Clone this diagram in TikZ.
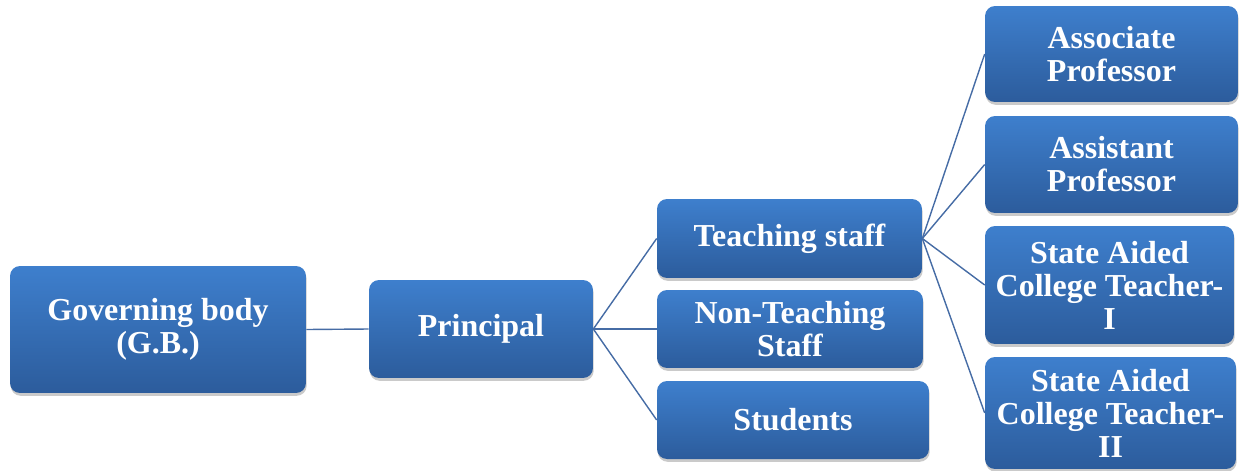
\documentclass[tikz,border=0pt]{standalone}
\usepackage{fontspec}
\setmainfont{Liberation Serif}
\usetikzlibrary{shadows}

\definecolor{boxtop}{RGB}{62,127,205}
\definecolor{boxbottom}{RGB}{44,92,156}
\definecolor{linkblue}{RGB}{70,108,165}

\tikzset{
    orgbox/.style={
        rounded corners=0.2cm,
        top color=boxtop, bottom color=boxbottom,
        draw=none, text=white, align=center,
        font=\fontsize{18.2}{18.8}\selectfont\bfseries,
        inner sep=0pt,
        drop shadow={shadow xshift=0.4pt, shadow yshift=-1.6pt, opacity=0.35, fill=black!60}
    },
    link/.style={draw=linkblue, line width=0.8pt}
}

\begin{document}
\begin{tikzpicture}[
    % one unit is one pixel of the reference, y runs downwards
    x={(0.02cm,0cm)},
    y={(0cm,-0.02cm)}
]
    \useasboundingbox (0,0) rectangle (1239,470);

    % --- Left part: governing body and principal ---
    \node[orgbox, minimum width=5.92cm, minimum height=2.54cm] (GB) at (158,329.5) {Governing body\\(G.B.)};
    \node[orgbox, minimum width=4.48cm, minimum height=1.96cm] (Principal) at (481,329) {Principal};

    % --- Middle column ---
    \node[orgbox, minimum width=5.30cm, minimum height=1.58cm] (Teaching) at (789.5,238.5) {Teaching staff};
    \node[orgbox, minimum width=5.32cm, minimum height=1.56cm] (NonTeaching) at (790,329) {Non-Teaching\\Staff};
    \node[orgbox, minimum width=5.44cm, minimum height=1.56cm] (Students) at (793,420) {Students};

    % --- Right column: teaching posts ---
    \node[orgbox, minimum width=5.06cm, minimum height=1.92cm] (Associate) at (1111.5,54) {Associate\\Professor};
    \node[orgbox, minimum width=5.06cm, minimum height=1.94cm] (Assistant) at (1111.5,164.5) {Assistant\\Professor};
    \node[orgbox, minimum width=4.98cm, minimum height=2.36cm] (SACTone) at (1109.5,285) {State Aided\\College Teacher-\\I};
    \node[orgbox, minimum width=5.02cm, minimum height=2.24cm] (SACTtwo) at (1110.5,413) {State Aided\\College Teacher-\\II};

    % --- Connectors ---
    \draw[link] (GB.east) -- (Principal.west);
    \foreach \n in {Teaching, NonTeaching, Students}
        \draw[link] (Principal.east) -- (\n.west);
    \foreach \n in {Associate, Assistant, SACTone, SACTtwo}
        \draw[link] (Teaching.east) -- (\n.west);

\end{tikzpicture}
\end{document}
